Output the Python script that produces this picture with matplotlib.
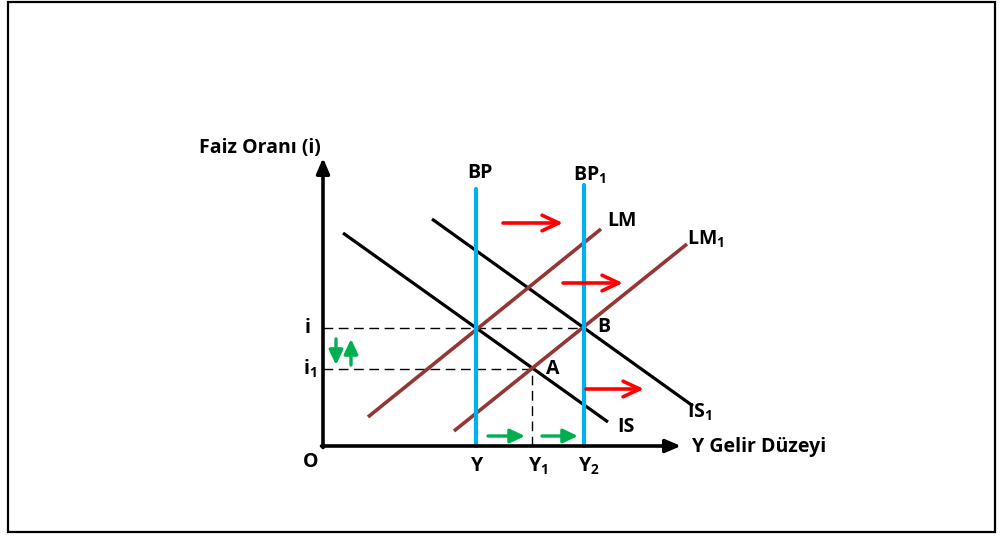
import matplotlib
matplotlib.use("Agg")
import matplotlib.pyplot as plt
from matplotlib.patches import Rectangle

plt.rcParams['font.family'] = ['Open Sans', 'DejaVu Sans']
plt.rcParams['mathtext.fontset'] = 'custom'
plt.rcParams['mathtext.rm'] = 'Open Sans:bold'
plt.rcParams['mathtext.it'] = 'Open Sans:bold'
plt.rcParams['mathtext.bf'] = 'Open Sans:bold'

# ---- schematic data (origin O at (0,0)) ----
is_x = [20, 285]
is_y = [213, 24]
is1_x = [109, 370]
is1_y = [227, 40]
lm_x = [45, 278]
lm_y = [29, 217]
lm1_x = [131, 364]
lm1_y = [15, 202]
bp_x = [153, 153]
bp_y = [0, 257]
bp1_x = [261, 261]
bp1_y = [0, 261]
i_level = 118
i1_level = 77
point_A = (209, 78)
point_B = (261, 118)
x_axis_end = 358
y_axis_end = 288

red_arrows = [((180, 223), (240, 223)), ((240, 163), (300, 163)), ((263, 57), (321, 57))]
green_h_arrows = [((165, 10), (202, 10)), ((219, 10), (255, 10))]
green_v_arrows = [((13, 107), (13, 81)), ((28, 81), (28, 107))]

labels = [
    ("Faiz Oranı (i)", -63, 298, 'center'),
    ("BP", 157, 273, 'center'),
    ("BP$_1$", 267, 271, 'center'),
    ("LM", 299, 225, 'center'),
    ("LM$_1$", 383, 207, 'center'),
    ("IS", 303, 19, 'center'),
    ("IS$_1$", 377, 34, 'center'),
    ("Y Gelir Düzeyi", 369, -1, 'left'),
    ("O", -12, -16, 'center'),
    ("i", -15, 118, 'center'),
    ("i$_1$", -13, 77, 'center'),
    ("Y", 154, -20, 'center'),
    ("Y$_1$", 215, -20, 'center'),
    ("Y$_2$", 266, -20, 'center'),
    ("A", 230, 77, 'center'),
    ("B", 281, 119, 'center'),
]

BLUE = '#00B0F0'
BROWN = '#943634'
GREEN = '#00B050'
RED = '#FF0000'

fig = plt.figure(figsize=(10.01, 5.36), dpi=100)
ax = fig.add_axes([0, 0, 1, 1])
ax.set_xlim(-323, 678)
ax.set_ylim(-90, 446)
ax.axis('off')

# outer frame
ax.add_patch(Rectangle((-315, -86), 987, 530, fill=False, lw=1.6, ec='black'))

# dashed guides
dash = dict(color='black', lw=1.0, linestyle=(0, (7, 4)))
ax.plot([0, point_B[0]], [i_level, i_level], **dash)
ax.plot([0, point_A[0]], [i1_level, i1_level], **dash)
ax.plot([point_A[0], point_A[0]], [0, point_A[1]], **dash)

# curves
ax.plot(is_x, is_y, color='black', lw=2.3, solid_capstyle='butt')
ax.plot(is1_x, is1_y, color='black', lw=2.3, solid_capstyle='butt')
ax.plot(lm_x, lm_y, color=BROWN, lw=2.6, solid_capstyle='butt')
ax.plot(lm1_x, lm1_y, color=BROWN, lw=2.6, solid_capstyle='butt')
ax.plot(bp_x, bp_y, color=BLUE, lw=3.0, solid_capstyle='round')
ax.plot(bp1_x, bp1_y, color=BLUE, lw=3.0, solid_capstyle='round')

# axes with arrows
ax.annotate('', xy=(0, y_axis_end), xytext=(0, -1.5),
            arrowprops=dict(arrowstyle='-|>,head_length=0.7,head_width=0.3', color='black', lw=2.6,
                            mutation_scale=13, shrinkA=0, shrinkB=0))
ax.annotate('', xy=(x_axis_end, 0), xytext=(-1.5, 0),
            arrowprops=dict(arrowstyle='-|>,head_length=0.7,head_width=0.3', color='black', lw=2.6,
                            mutation_scale=13, shrinkA=0, shrinkB=0))

for (s, e) in red_arrows:
    ax.annotate('', xy=e, xytext=s,
                arrowprops=dict(arrowstyle='->,head_length=0.75,head_width=0.35', color=RED, lw=2.6,
                                mutation_scale=16, shrinkA=0, shrinkB=0))
for (s, e) in green_h_arrows + green_v_arrows:
    ax.annotate('', xy=e, xytext=s,
                arrowprops=dict(arrowstyle='-|>,head_length=0.55,head_width=0.26', color=GREEN, lw=2.4,
                                mutation_scale=16, shrinkA=0, shrinkB=0))

for txt, x, y, ha in labels:
    ax.text(x, y, txt, ha=ha, va='center', fontsize=14, fontweight='bold', color='black')

fig.savefig('out.png', dpi=100)
